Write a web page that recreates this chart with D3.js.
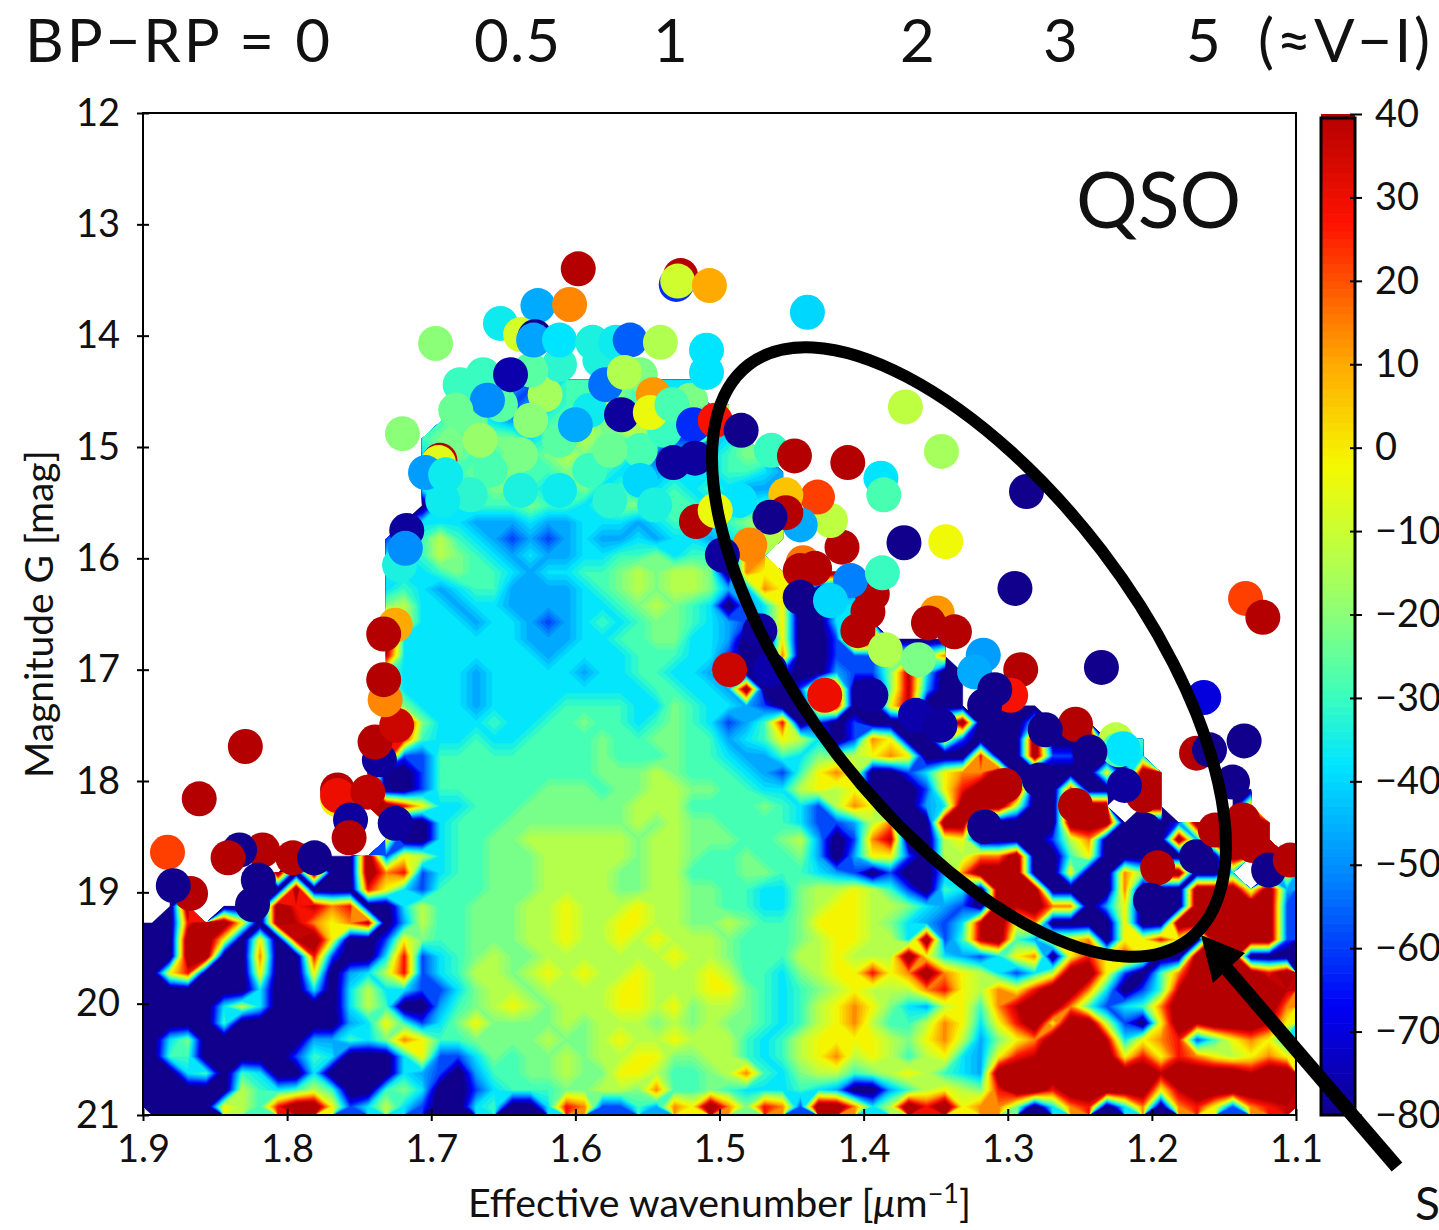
<!DOCTYPE html>
<html>
<head>
<meta charset="utf-8">
<script src="https://d3js.org/d3.v7.min.js"></script>
<style>
  html, body { margin: 0; padding: 0; background: #fff; overflow: hidden; }
  svg { display: block; }
  text { font-family: Lato, "Open Sans", sans-serif; fill: #111; }
</style>
</head>
<body>
<script>
// colour bar ticks
var rvTicks = [40, 30, 20, 10, 0, -10, -20, -30, -40, -50, -60, -70, -80];
var magTicks = [12, 13, 14, 15, 16, 17, 18, 19, 20, 21];
var wnTicks = [1.9, 1.8, 1.7, 1.6, 1.5, 1.4, 1.3, 1.2, 1.1];

// jet-like stops seen on the colour bar
var jetValues = [-80, -67, -52, -38, -29, -20, -11, -2, 10, 27, 40];
var jetColors = ["#10008c", "#0000f5", "#0080ff", "#00e5ff", "#40ffb8", "#8cff78", "#c4ff3a", "#f6f800", "#ffaa00", "#ff1200", "#b40000"];

// colour codes used in heatRows (km/s)
var heatCodes = ["a", "b", "c", "d", "e", "f", "g", "h", "i", "j", "k", "l"];
var heatValues = [-92, -60, -47, -38, -30, -22, -13, -3, 14, 28, 38, 56];

// map cells, 0.0125 wide and 0.15 mag tall, from G = 14.4 down to 21
var heatRows = [
  ".......... ........ed cbdeeffedd d......... .......... .......... ....",
  ".......... .......edc bcdefgfeed cdg....... .......... .......... ....",
  ".......... ......efed cdefgfhgdb bdf....... .......... .......... ....",
  ".......... .....effef fdefgfegfb bcdf...... .......... .......... ....",
  ".......... .....defee fefgfeedbd cdeff..... .......... .......... ....",
  ".......... .....edefg feeffedecd ddeedc.... .......... .......... ....",
  ".......... .....ddeef fedefdedde dedccc.... .......... .......... ....",
  ".......... .....addee efeedeffee edddeefh.. .......... .......... ....",
  ".......... ....bdddcc cdccdddcde edefgh.... .......... .......... ....",
  ".......... ...bdegedc bcbcdccdcd dcdegg.... .......... .......... ....",
  ".......... ...ddegfed cdccddeefd eeaii..... .......... .......... ....",
  ".......... ...dddefee dcddeefgfg gfaihhill. .......... .......... ....",
  ".......... ...dedcdee ccccdefgfg gfccihhaac .......... .......... ....",
  ".......... ...fgddcdd ccccddefgf edacdhaadd .......... .......... ....",
  ".......... ...lgdddcd dcbcdedeff edcbdhaadd c......... .......... ....",
  ".......... ...ldddddd dcccddeeff ddcaahaabl laaaa..... .......... ....",
  ".......... ...kdddddd ddcddddeee ddbaaiaabb bgffi..... .......... ....",
  ".......... ...fddddcd ddddcddeed dclaabaacb bfkdaa.... .......... ....",
  ".......... ...gddddcd ddddddddee ddclaabjja afkcaa.... .......... ....",
  ".......... ...efdddcd dddeeeeddf eddcbaaika ahkaaa.aaa .......... ....",
  ".......... ...llfddde ddeefeedef edbcejabab aaaahlaaad aal....... ....",
  ".......... ...jjedded deeeefeeff eecdehgdab ihaahbaaal aalaee.... ....",
  ".......... ..llbbeeee eeeeefeeef eedccedffg hihaaajaal bbaaed.... ....",
  ".......... ..laabeeee eeeeefffgf eeedcbehih aabdhiilaa aaahall... ....",
  ".......... ..kaabeeee eefffeffgg ffeeddghgh aaabhjllla ajaaall... aa..",
  ".......... ..lljhddee effffffggg eeeefedbgi haacdlllga alll.ll... ai..",
  ".......... ...laadeee fffffffgfg ffeeeedbbc giaallaaaa alllaaabll lll.",
  ".......... ...haadeef fggggggfgg fffeefgcab ikaaghaaaa bgiaaaalcl lll.",
  "........la aalbhgdeef ffgggggfgg feefeefcac hhbaggiila aehaaaaaaa llll",
  ".....aalal aalijbdeef ffggggffgg eeeffeedcb abaacillla ahaaifllaa d.ah",
  ".aa...aala aajhdbeeef ffggggffgg ffeeddfggh gebaedalll aaaaiaaall lglc",
  ".al.aaaljk ijaadgeeff fgghggghgg ffeeddfghh ggfdcbalkl iiachaaall lllb",
  "aajllhalki hikacgeeff fgghgghhgg ffgfeefhhh gfdcbdklhi aaaahaalll lllb",
  "aallhahakl haabhfeeff fgghgghghg ggfeeefghh ggdlbeklec hhiahhjhal lllb",
  "aallaaiaaj baadjbdefg ffgggggggh ggfeeegghg gglhdcbdhi ahjhjhaall laaa",
  "ahjaaahaah acdgjbdegg fghghgghgg ghgeedfghh jhilihgdbd gllhbaeill lljl",
  "aaaaaadaad adgddbbdfg gfgggghhgg ghhfedefgh gggijhgihj llidabekll lllk",
  "aaaadgdaaa adgeaacefg hgfggghhgh fggfedeghi hfdcgheikl liebdeilll llli",
  "aaaaeaaaaa acdhebdfhf fffgfgggfg fgffedeghi geegihdhjl hllgbahlkl llkh",
  "adfaaaaaac cedfiheeff ffgffghggh gggedeghhh hgfhigcfhi lllkdhijbe hihd",
  "aeeaaaaabe daaadhbbdf effgfgghhf fggedeghig hgeghdchjk llllhjhjih ghih",
  "aadeaedaad aaaadcbace effgffhhge efgiedfgge fghgedclll llklllklll lkll",
  "aaaaagedeg eaaefdaabd eeeffggfie efedddedca aceghgfjll jlllllhkll llll",
  "aaaahgejll hbdgdbaade aadjibbeci hlifjiblli dgljlhiifa dijadiaijh bijk"
];

// round blobs (lone stars and dense edge), in drawing order
var blobWn = [1.673, 1.652, 1.621, 1.631, 1.611, 1.638, 1.659, 1.666, 1.590, 1.555, 1.576, 1.555, 1.590, 1.538, 1.520, 1.673, 1.638, 1.611, 1.576, 1.692,
  1.611, 1.583, 1.555, 1.631, 1.680, 1.513, 1.545,
  1.598, 1.626, 1.604, 1.527, 1.530, 1.529, 1.507, 1.439, 1.697, 1.652, 1.638, 1.628, 1.629, 1.611, 1.588, 1.572, 1.562, 1.541, 1.509, 1.509,
  1.664, 1.645, 1.661, 1.683, 1.579, 1.566, 1.568, 1.600, 1.546, 1.548, 1.533, 1.518, 1.503, 1.485, 1.720, 1.694, 1.695, 1.704, 1.690, 1.532,
  1.517, 1.464, 1.448, 1.411, 1.388, 1.386, 1.371, 1.346, 1.287, 1.343, 1.372, 1.295, 1.235, 1.135, 1.123, 1.164, 1.136, 1.169, 1.160, 1.144,
  1.225, 1.223, 1.220, 1.253, 1.274, 1.291, 1.298, 1.317, 1.323, 1.309, 1.316, 1.349, 1.337, 1.355, 1.394, 1.404, 1.397, 1.415, 1.442, 1.444,
  1.434, 1.409, 1.387, 1.423, 1.432, 1.444, 1.454, 1.454, 1.465, 1.486, 1.516, 1.503, 1.493, 1.444, 1.423, 1.472, 1.465, 1.395, 1.427, 1.385,
  1.362, 1.364, 1.347, 1.479, 1.498,
  1.861, 1.829, 1.883, 1.867, 1.879, 1.817, 1.833, 1.841, 1.796, 1.781, 1.820, 1.824, 1.765, 1.765, 1.765, 1.744, 1.725, 1.756, 1.757, 1.736,
  1.739, 1.724, 1.732, 1.733, 1.725, 1.733, 1.717, 1.722, 1.718,
  1.206, 1.219, 1.243, 1.253, 1.278, 1.302, 1.316, 1.205, 1.196, 1.169, 1.156, 1.137, 1.130, 1.119, 1.104, 1.133, 1.201];
var blobMag = [14.76, 14.62, 14.53, 14.76, 14.94, 15.07, 15.21, 14.94, 15.21, 15.03, 15.03, 15.30, 14.67, 14.85, 14.58, 15.43, 15.39, 15.39, 15.48, 15.48,
  14.26, 14.22, 14.35, 14.31, 14.44, 14.80, 15.52,
  13.40, 13.73, 13.72, 13.46, 13.54, 13.51, 13.55, 13.79, 14.07, 13.89, 13.99, 14.01, 14.04, 14.04, 14.06, 14.06, 14.04, 14.06, 14.13, 14.33,
  14.35, 14.35, 14.58, 14.67, 14.44, 14.33, 14.71, 14.80, 14.53, 14.69, 14.62, 14.80, 14.76, 14.85, 14.88, 15.12, 15.14, 15.23, 15.25, 15.14,
  15.10, 15.03, 15.08, 15.14, 15.28, 15.43, 14.64, 15.04, 15.40, 15.85, 15.86, 16.27, 16.98, 16.36, 16.53, 17.25, 17.64, 17.75, 17.72, 18.01,
  17.63, 17.72, 17.71, 17.49, 17.54, 17.00, 17.23, 16.87, 17.02, 17.18, 17.32, 16.49, 16.66, 16.58, 16.32, 16.65, 16.48, 15.90, 16.04, 16.11,
  16.09, 16.20, 16.13, 15.66, 15.45, 15.70, 15.43, 15.59, 15.63, 15.48, 15.67, 15.57, 17.00, 16.35, 16.38, 16.65, 17.00, 17.23, 17.23, 16.82,
  16.91, 17.41, 17.50, 15.88, 15.97,
  18.16, 17.69, 18.64, 19.01, 18.94, 18.62, 18.62, 18.69, 18.69, 18.69, 18.89, 19.11, 18.17, 18.08, 18.13, 18.10, 18.38, 18.35, 18.51, 17.81,
  17.65, 17.50, 17.27, 17.09, 16.60, 16.68, 15.75, 16.06, 15.91,
  18.13, 18.04, 17.74, 18.22, 17.99, 18.04, 18.41, 18.44, 18.78, 18.68, 18.44, 18.35, 18.58, 18.80, 18.71, 19.21, 19.07];
var blobRv = [-24, -26, -16, -20, -26, -22, -28, -18, -30, -28, -24, -40, -36, -30, -22, -32, -34, -36, -32, -36,
  -32, -34, -22, -26, -30, -28, -34,
  40, -46, 14, 40, -62, -9, 10, -40, -20, -36, -8, -80, -47, -38, -34, -36, -56, -14, -38, -38,
  -30, -76, -50, -24, -54, -14, -78, -46, 12, -4, -28, -62, 28, -80, -20, 40, -6, -48, -36, -78,
  -78, -30, 40, 40, -38, -28, -12, -16, -80, -3, -80, -80, -80, 22, 40, -70, -80, 40, -80, -80,
  -12, -28, -38, 40, -80, 40, 28, -48, -46, -80, -80, 12, 40, 40, 40, 40, 40, 40, 16, 40,
  40, -52, -30, -12, 22, -46, 6, 40, -80, -38, 40, -4, 36, -80, -40, -78, -76, -78, 30, -14,
  -22, -76, -78, 14, -78,
  40, 40, 22, 40, -80, 40, -80, 40, 40, -80, -80, -80, 0, 40, 30, 38, -78, -78, 40, -78,
  40, 36, 14, 40, 10, 40, -78, -34, -50,
  40, -78, -80, 40, -80, 40, -80, -80, 40, -80, 40, 40, 40, -80, 40, 40, -80];

var topLabels = ["BP\u2212RP = 0", "0.5", "1", "2", "3", "5", "(\u2248V\u2212I)"];
var topLabelX = [25, 474, 653, 900, 1043, 1186, 1258];
var topLabelLen = [305, 86, null, null, null, null, 172];

function init() {
  var w = 1439;
  var h = 1230;

  var xScale = d3.scaleLinear().domain([1.9, 1.1]).range([143, 1296]);
  var yScale = d3.scaleLinear().domain([12, 21]).range([113, 1115]);
  var barScale = d3.scaleLinear().domain([-80, 40]).range([1115, 114]);
  var colorScale = d3.scaleLinear().domain(jetValues).range(jetColors).clamp(true);
  var codeScale = d3.scaleOrdinal().domain(heatCodes).range(heatValues);

  var svg = d3.select("body").append("svg")
    .attr("width", w)
    .attr("height", h);

  svg.append("defs").append("clipPath").attr("id", "plotClip")
    .append("rect")
    .attr("x", xScale(1.9))
    .attr("y", yScale(12))
    .attr("width", xScale(1.1) - xScale(1.9))
    .attr("height", yScale(21) - yScale(12));

  var plot = svg.append("g").attr("clip-path", "url(#plotClip)");

  // heat map: the grid goes through d3.contours so the blotches get rims like a real jet map
  var nCols = 64;
  var nRows = heatRows.length;
  var grid = [];
  heatRows.forEach(function (row) {
    row.replace(/ /g, "").split("").forEach(function (code) {
      grid.push(code === "." ? NaN : codeScale(code));
    });
  });
  var cellX = d3.scaleLinear().domain([0, nCols]).range([xScale(1.9), xScale(1.1)]);
  var cellY = d3.scaleLinear().domain([0, nRows]).range([yScale(14.4), yScale(21)]);
  var cellPath = d3.geoPath(d3.geoTransform({
    point: function (x, y) { this.stream.point(cellX(x), cellY(y)); }
  }));
  var bands = d3.contours()
    .size([nCols, nRows])
    .thresholds(d3.range(-93, 44, 3))(grid);

  plot.append("g")
    .selectAll("path")
    .data(bands)
    .enter()
    .append("path")
    .attr("d", cellPath)
    .attr("fill", function (d) { return colorScale(d.value + 1.5); })
    .attr("stroke", function (d) { return colorScale(d.value + 1.5); })
    .attr("stroke-width", 0.5);

  // blobs
  plot.append("g")
    .selectAll("circle")
    .data(blobRv)
    .enter()
    .append("circle")
    .attr("cx", function (d, i) { return xScale(blobWn[i]); })
    .attr("cy", function (d, i) { return yScale(blobMag[i]); })
    .attr("r", 17.5)
    .attr("fill", function (d) { return colorScale(d); });

  // frame
  svg.append("rect")
    .attr("x", xScale(1.9))
    .attr("y", yScale(12))
    .attr("width", xScale(1.1) - xScale(1.9))
    .attr("height", yScale(21) - yScale(12))
    .attr("fill", "none")
    .attr("stroke", "#000")
    .attr("stroke-width", 2);

  // X axis
  var xAxis = svg.append("g")
    .attr("transform", "translate(0," + yScale(21) + ")")
    .call(d3.axisBottom(xScale).tickValues(wnTicks).tickSize(6).tickPadding(14).tickFormat(d3.format(".1f")));
  xAxis.select(".domain").remove();
  xAxis.selectAll("line").attr("y1", -6).attr("stroke", "#000").attr("stroke-width", 2);
  xAxis.selectAll("text").style("font-size", "38px").style("font-family", "Lato");

  // Y axis
  var yAxis = svg.append("g")
    .attr("transform", "translate(" + xScale(1.9) + ",0)")
    .call(d3.axisLeft(yScale).tickValues(magTicks).tickSize(6).tickPadding(17));
  yAxis.select(".domain").remove();
  yAxis.selectAll("line").attr("x1", 6).attr("stroke", "#000").attr("stroke-width", 2);
  yAxis.selectAll("text").style("font-size", "38px").style("font-family", "Lato");

  // axis titles
  var xTitle = svg.append("text")
    .attr("x", 468)
    .attr("y", 1217)
    .style("font-size", "39.3px")
    .text("Effective wavenumber [");
  xTitle.append("tspan").style("font-style", "italic").text("\u03bc");
  xTitle.append("tspan").text("m");
  xTitle.append("tspan").attr("dy", -14).style("font-size", "27px").text("\u22121");
  xTitle.append("tspan").attr("dy", 14).text("]");

  svg.append("text")
    .attr("transform", "translate(53,778) rotate(-90)")
    .style("font-size", "39px")
    .text("Magnitude G [mag]");

  // colour bar
  var barX = 1321;
  var barW = 34;
  svg.append("g")
    .selectAll("rect")
    .data(d3.range(-80, 40, 1))
    .enter()
    .append("rect")
    .attr("x", barX)
    .attr("y", function (d) { return barScale(d + 1); })
    .attr("width", barW)
    .attr("height", function (d) { return barScale(d) - barScale(d + 1) + 0.6; })
    .attr("fill", function (d) { return colorScale(d + 0.5); });
  svg.append("rect")
    .attr("x", barX)
    .attr("y", 118)
    .attr("width", barW)
    .attr("height", barScale(-80) - 118)
    .attr("fill", "none")
    .attr("stroke", "#000")
    .attr("stroke-width", 3);

  var barAxis = svg.append("g")
    .attr("transform", "translate(" + (barX + barW) + ",0)")
    .call(d3.axisRight(barScale).tickValues(rvTicks).tickSize(7).tickPadding(13)
      .tickFormat(function (d) { return d < 0 ? "\u2212" + (-d) : d; }));
  barAxis.select(".domain").remove();
  barAxis.selectAll("line").attr("x1", -5).attr("stroke", "#000").attr("stroke-width", 2);
  barAxis.selectAll("text").style("font-size", "38px").style("font-family", "Lato");

  // line of labels across the top
  svg.append("g")
    .selectAll("text")
    .data(topLabels)
    .enter()
    .append("text")
    .attr("x", function (d, i) { return topLabelX[i]; })
    .attr("y", 62)
    .attr("textLength", function (d, i) { return topLabelLen[i]; })
    .style("font-size", "60px")
    .text(function (d) { return d; });

  svg.append("text")
    .attr("x", 1076)
    .attr("y", 228)
    .style("font-size", "77px")
    .text("QSO");

  // ellipse and arrow drawn over everything
  svg.append("ellipse")
    .attr("cx", 969)
    .attr("cy", 652)
    .attr("rx", 362)
    .attr("ry", 167)
    .attr("transform", "rotate(52.55,969,652)")
    .attr("fill", "none")
    .attr("stroke", "#000")
    .attr("stroke-width", 12);

  svg.append("line")
    .attr("x1", 1397)
    .attr("y1", 1167)
    .attr("x2", 1226)
    .attr("y2", 968)
    .attr("stroke", "#000")
    .attr("stroke-width", 14);
  svg.append("polygon")
    .attr("points", "1201,935 1245,953 1213,983")
    .attr("fill", "#000");

  svg.append("text")
    .attr("x", 1415)
    .attr("y", 1220)
    .style("font-size", "46px")
    .text("S");
}
window.onload = init;
</script>
</body>
</html>
